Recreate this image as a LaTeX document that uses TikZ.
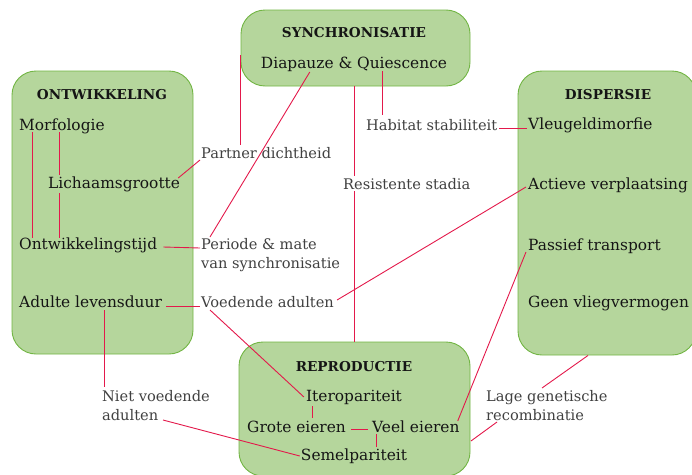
\documentclass[tikz,border=0pt]{standalone}
\usepackage{fontspec}
\setmainfont{DejaVu Serif}
\usetikzlibrary{calc}
\definecolor{boxfill}{HTML}{B5D69C}
\definecolor{boxline}{HTML}{72B544}
\definecolor{link}{HTML}{E3194B}
\definecolor{lblc}{HTML}{404040}
\definecolor{itmc}{HTML}{151515}
\begin{document}
\begin{tikzpicture}[x=1pt,y=-1pt,
  grp/.style={draw=boxline, fill=boxfill, line width=0.9pt, rounded corners=24pt, rectangle, inner sep=0pt},
  ttl/.style={font=\bfseries\fontsize{13.6}{15}\selectfont, text=itmc, inner sep=0pt, anchor=base},
  itm/.style={font=\fontsize{15.4}{18}\selectfont, text=itmc, inner sep=0pt, anchor=base west},
  itmc/.style={itm, anchor=base},
  lbl/.style={font=\fontsize{14.6}{19}\selectfont, text=lblc, inner sep=0pt, anchor=base west, align=left},
  lnk/.style={draw=link, line width=0.9pt}]
\clip (0,0) rectangle (692,474);
% group boxes
\node[grp, minimum width=181pt, minimum height=283pt] (ontw) at (102.5,212.5) {};
\node[grp, minimum width=229pt, minimum height=76pt] (sync) at (355.5,48) {};
\node[grp, minimum width=178pt, minimum height=284pt] (disp) at (607,213) {};
\node[grp, minimum width=231pt, minimum height=134pt] (repro) at (354.5,409) {};
% titles
\node[ttl] (tontw) at (102,99) {ONTWIKKELING};
\node[ttl] (tsync) at (354,37) {SYNCHRONISATIE};
\node[ttl] (tdisp) at (608,99) {DISPERSIE};
\node[ttl] (trepro) at (354,371) {REPRODUCTIE};
% items
\node[itm] (morf) at (19,130) {Morfologie};
\node[itm] (lich) at (48,188) {Lichaamsgrootte};
\node[itm] (ont) at (19,249) {Ontwikkelingstijd};
\node[itm] (adul) at (19,307) {Adulte levensduur};
\node[itmc] (diap) at (354,68) {Diapauze \& Quiescence};
\node[itm] (vleug) at (528,129) {Vleugeldimorfie};
\node[itm] (act) at (528,189) {Actieve verplaatsing};
\node[itm] (pas) at (528,250) {Passief transport};
\node[itm] (geen) at (528,307) {Geen vliegvermogen};
\node[itmc] (itero) at (354,401) {Iteropariteit};
\node[itm] (grote) at (247,432) {Grote eieren};
\node[itm] (veel) at (372,432) {Veel eieren};
\node[itmc] (semel) at (354,460) {Semelpariteit};
% connector behind the Resistente label
\draw[lnk] ($(sync.south)+(-1.5,0)$) -- ($(repro.north)+(-0.5,0)$);
% labels (two-line labels are placed by the baseline of their last line)
\node[lbl] (partner) at (201,158) {Partner dichtheid};
\node[lbl] (per) at (201,268) {Periode \& mate\\van synchronisatie};
\node[lbl] (voed) at (201,307) {Voedende adulten};
\node[lbl] (hab) at (366,130) {Habitat stabiliteit};
\node[lbl, fill=white, inner sep=2pt] (res) at (341,189) {Resistente stadia};
\node[lbl] (niet) at (102,420) {Niet voedende\\adulten};
\node[lbl] (lage) at (486,420) {Lage genetische\\recombinatie};
% connectors
\draw[lnk] ($(morf.base west)+(13,2)$) -- ($(ont.base west)+(13,-11)$);
\draw[lnk] ($(morf.base west)+(40,2)$) -- ($(lich.base west)+(11,-13)$);
\draw[lnk] ($(lich.base west)+(11,5)$) -- ($(ont.base west)+(40,-11)$);
\draw[lnk] ($(lich.base east)+(-2,-10)$) -- ($(partner.base west)+(-1,2)$);
\draw[lnk] ($(ont.base east)+(6,-2)$) -- ($(per.base west)+(-1,-20)$);
\draw[lnk] ($(adul.base east)+(4,-1)$) -- ($(voed.base west)+(-1,-1)$);
\draw[lnk] ($(adul.base west)+(85,3)$) -- ($(niet.base west)+(2,-33)$);
\draw[lnk] ($(niet.base west)+(61,0)$) -- ($(semel.base west)+(-1,-4)$);
\draw[lnk] ($(voed.base west)+(9,3)$) -- ($(itero.base west)+(-2,-4)$);
\draw[lnk] ($(voed.base east)+(3,-7)$) -- ($(act.base west)+(-2,-2)$);
\draw[lnk] ($(per.base west)+(9,-31)$) -- ($(diap.base west)+(49,4)$);
\coordinate (ptop) at ($(partner.base west)+(39.5,-13)$);
\draw[lnk] (ptop |- {$(sync.west)+(0,7)$}) -- (ptop);
\coordinate (htop) at ($(hab.base west)+(16,-15)$);
\draw[lnk] (htop |- diap.south) -- (htop);
\draw[lnk] ($(hab.base east)+(2,-2)$) -- ($(vleug.base west)+(-1,-1)$);
\draw[lnk] ($(pas.base west)+(-2,2)$) -- ($(veel.base east)+(-2,-11)$);
\draw[lnk] ($(disp.south)+(-19,0)$) -- ($(lage.base west)+(56,-32)$);
\draw[lnk] ($(lage.base west)+(11,2)$) -- ($(repro.east)+(0.5,32)$);
\coordinate (ibot) at ($(itero.base west)+(7,5)$);
\draw[lnk] (ibot) -- (ibot |- {$(grote.base west)+(0,-14)$});
\draw[lnk] ($(grote.base east)+(5,-3)$) -- ($(veel.base west)+(-4,-3)$);
\coordinate (vbot) at ($(veel.base west)+(4,2)$);
\draw[lnk] (vbot) -- (vbot |- {$(semel.base west)+(0,-13)$});
\end{tikzpicture}
\end{document}
